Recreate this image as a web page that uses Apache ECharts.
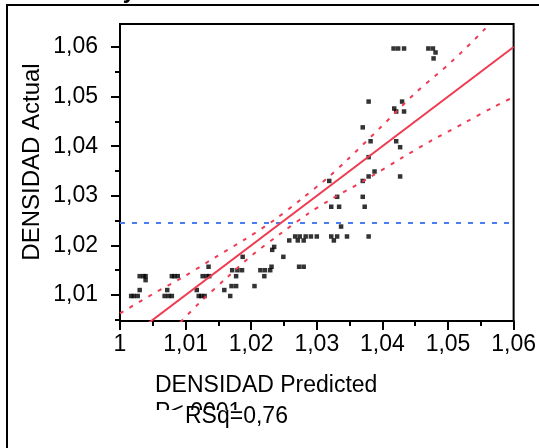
<!DOCTYPE html>
<html>
<head>
<meta charset="utf-8">
<script src="https://cdn.jsdelivr.net/npm/echarts@6/dist/echarts.min.js"></script>
<style>
  html, body { margin: 0; padding: 0; background: #fff; }
  #chart { width: 539px; height: 448px; }
</style>
</head>
<body>
<div id="chart"></div>
<script>
// tick labels
const xTicks = [1, 1.01, 1.02, 1.03, 1.04, 1.05, 1.06];
const yTicks = [1.01, 1.02, 1.03, 1.04, 1.05, 1.06];
const yMinorTicks = [1.005, 1.015, 1.025, 1.035, 1.045, 1.055];

// points: predicted (x) vs actual (y)
const predicted = [
  1.0417, 1.0424, 1.0433, 1.0470, 1.0477, 1.0481, 1.0478,
  1.0379, 1.0430, 1.0418, 1.0421, 1.0433,
  1.0370, 1.0382, 1.0421, 1.0427, 1.0379, 1.0388, 1.0379, 1.0427,
  1.0370, 1.0319, 1.0331, 1.0370, 1.0322, 1.0334, 1.0373, 1.0337,
  1.0322, 1.0326, 1.0331, 1.0346, 1.0379,
  1.0258, 1.0267, 1.0274, 1.0271, 1.0280, 1.0283, 1.0291, 1.0300,
  1.0232, 1.0235, 1.0249, 1.0187,
  1.0273, 1.0280, 1.0231, 1.0135,
  1.0214, 1.0221, 1.0229, 1.0220,
  1.0171, 1.0179, 1.0186, 1.0177,
  1.0126, 1.0132, 1.0136,
  1.0205, 1.0170, 1.0177, 1.0159, 1.0168,
  1.0117, 1.0120, 1.0124, 1.0129,
  1.0079, 1.0083, 1.0088, 1.0072, 1.0068, 1.0074, 1.0079,
  1.0030, 1.0036, 1.0039, 1.0039, 1.0030, 1.0017, 1.0021, 1.0027
];
const actual = [
  1.0597, 1.0597, 1.0597, 1.0597, 1.0597, 1.0589, 1.0577,
  1.0490, 1.0490, 1.0476, 1.0470, 1.0470,
  1.0438, 1.0410, 1.0410, 1.0398, 1.0378, 1.0349, 1.0339, 1.0339,
  1.0330, 1.0330, 1.0298, 1.0298, 1.0278, 1.0278, 1.0278, 1.0238,
  1.0218, 1.0210, 1.0218, 1.0218, 1.0218,
  1.0210, 1.0218, 1.0218, 1.0210, 1.0210, 1.0218, 1.0218, 1.0218,
  1.0191, 1.0197, 1.0177, 1.0177,
  1.0157, 1.0157, 1.0157, 1.0157,
  1.0150, 1.0150, 1.0150, 1.0138,
  1.0150, 1.0150, 1.0150, 1.0138,
  1.0138, 1.0138, 1.0138,
  1.0118, 1.0118, 1.0118, 1.0110, 1.0098,
  1.0110, 1.0098, 1.0098, 1.0098,
  1.0138, 1.0138, 1.0138, 1.0110, 1.0098, 1.0098, 1.0098,
  1.0138, 1.0138, 1.0138, 1.0130, 1.0110, 1.0098, 1.0098, 1.0098
];

// fit line and confidence curves
const fitX = [1.0, 1.06];
const fitY = [1.0, 1.06];
const upperX = [1.0, 1.005, 1.0096, 1.0144, 1.0189, 1.0235, 1.0277, 1.0318, 1.0346, 1.0398, 1.0450, 1.0505, 1.0556, 1.0564];
const upperY = [1.0063, 1.0102, 1.0136, 1.0175, 1.0211, 1.0251, 1.0294, 1.0338, 1.0372, 1.0439, 1.0507, 1.0570, 1.0636, 1.0650];
const lowerX = [1.0092, 1.0121, 1.0162, 1.0202, 1.0246, 1.0288, 1.0318, 1.0383, 1.0429, 1.0477, 1.0525, 1.0571, 1.06];
const lowerY = [1.0045, 1.0084, 1.0134, 1.0181, 1.0225, 1.0265, 1.0290, 1.0339, 1.0376, 1.0413, 1.0447, 1.0480, 1.0499];
const meanX = [1.0, 1.06];
const meanActual = 1.0245;

const font = "'Liberation Sans', Arial, sans-serif";
const red = "#ef3b52";
const blue = "#4a7cf2";
const fmt = (v) => String(+Number(v).toFixed(2)).replace(".", ",");
const zip = (xs, ys) => xs.map((x, i) => [x, ys[i]]);

const chart = echarts.init(document.getElementById("chart"));

const options = {
  animation: false,
  backgroundColor: "#fff",
  grid: {
    left: 120,
    right: 23,
    top: 24,
    bottom: 127,
    show: true,
    borderColor: "#000",
    borderWidth: 2,
  },
  xAxis: {
    type: "value",
    min: 1,
    max: 1.06,
    interval: 0.01,
    axisLine: { show: true, lineStyle: { color: "#000", width: 2 } },
    axisTick: { show: true, length: 9, lineStyle: { color: "#000", width: 2 } },
    minorTick: { show: true, splitNumber: 2, length: 5, lineStyle: { color: "#000", width: 2 } },
    axisLabel: { margin: 12, color: "#000", fontSize: 23, fontFamily: font, formatter: fmt },
    splitLine: { show: false },
  },
  yAxis: [
    {
      type: "value",
      min: 1.00476,
      max: 1.06464,
      position: "left",
      axisLine: { show: true, lineStyle: { color: "#000", width: 2 } },
      axisTick: { show: true, customValues: yTicks, length: 9, lineStyle: { color: "#000", width: 2 } },
      axisLabel: { customValues: yTicks, margin: 22, color: "#000", fontSize: 23, fontFamily: font, formatter: fmt },
      splitLine: { show: false },
    },
    {
      type: "value",
      min: 1.00476,
      max: 1.06464,
      position: "left",
      offset: 0,
      axisLine: { show: false },
      axisTick: { show: true, customValues: yMinorTicks, length: 5, lineStyle: { color: "#000", width: 2 } },
      axisLabel: { show: false },
      splitLine: { show: false },
    },
  ],
  series: [
    {
      type: "line",
      data: meanX.map((x) => [x, meanActual]),
      symbol: "none",
      lineStyle: { color: blue, width: 2, type: [5, 7] },
      silent: true,
    },
    {
      type: "line",
      data: zip(upperX, upperY),
      symbol: "none",
      smooth: 0.3,
      lineStyle: { color: red, width: 2, type: [4, 7] },
      silent: true,
    },
    {
      type: "line",
      data: zip(lowerX, lowerY),
      symbol: "none",
      smooth: 0.3,
      lineStyle: { color: red, width: 2, type: [4, 7] },
      silent: true,
    },
    {
      type: "line",
      data: zip(fitX, fitY),
      symbol: "none",
      lineStyle: { color: red, width: 2 },
      silent: true,
    },
    {
      type: "scatter",
      data: zip(predicted, actual),
      symbol: "rect",
      symbolSize: 4.5,
      itemStyle: { color: "#000" },
    },
  ],
  graphic: [
    {
      type: "rect",
      shape: { x: 7, y: 5, width: 600, height: 500 },
      style: { fill: "none", stroke: "#000", lineWidth: 2 },
      silent: true,
    },
    {
      type: "text",
      x: 32,
      y: 3,
      style: { text: "Actual by Predicted Plot", font: "bold 23px " + font, fill: "#000", textVerticalAlign: "bottom" },
    },
    {
      type: "text",
      x: 32,
      y: 162,
      rotation: Math.PI / 2,
      style: { text: "DENSIDAD Actual", font: "24px " + font, fill: "#000", textAlign: "center", textVerticalAlign: "middle" },
    },
    {
      type: "text",
      x: 155,
      y: 374,
      style: { text: "DENSIDAD Predicted", font: "23px " + font, fill: "#000", textVerticalAlign: "top" },
    },
    {
      type: "text",
      x: 155,
      y: 401,
      style: { text: "P<,0001", font: "23px " + font, fill: "#000", textVerticalAlign: "top" },
    },
    {
      type: "rect",
      shape: { x: 150, y: 410, width: 150, height: 30 },
      style: { fill: "#fff" },
    },
    {
      type: "text",
      x: 185,
      y: 405,
      style: { text: "RSq=0,76", font: "23px " + font, fill: "#000", textVerticalAlign: "top" },
    },
  ],
};

chart.setOption(options);
</script>
</body>
</html>
